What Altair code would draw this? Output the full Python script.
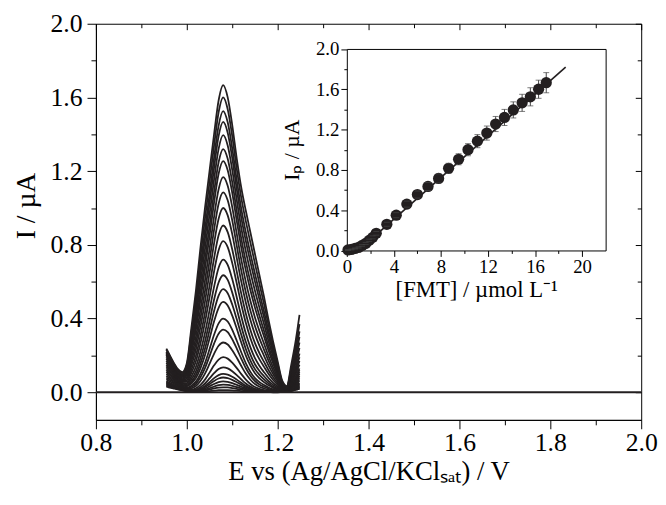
import altair as alt
import pandas as pd

# ---------------- main voltammograms ----------------
E_GRID = [0.955, 0.96, 0.97, 0.98, 0.99, 1.00, 1.01, 1.02, 1.03, 1.04, 1.05,
          1.06, 1.07, 1.08, 1.09, 1.10, 1.11, 1.12, 1.13, 1.14, 1.15, 1.16,
          1.17, 1.18, 1.19, 1.20, 1.21, 1.22, 1.23, 1.24, 1.248]
# normalised peak profile of the largest (widest) curve
SHAPE_WIDE = [0, 0, 0, 0.005, 0.02, 0.07, 0.20, 0.33, 0.47, 0.60, 0.72,
              0.84, 0.95, 1.0, 0.96, 0.87, 0.76, 0.665, 0.59, 0.52, 0.45, 0.38,
              0.31, 0.235, 0.165, 0.10, 0.035, 0, 0, 0, 0]
# normalised peak profile of the small (narrow) curves
SHAPE_NARROW = [0, 0, 0, 0, 0, 0.01, 0.035, 0.085, 0.18, 0.33, 0.54,
                0.76, 0.93, 1.0, 0.96, 0.84, 0.68, 0.50, 0.33, 0.20, 0.11, 0.06,
                0.03, 0.01, 0, 0, 0, 0, 0, 0, 0]
# background tails at both ends of the scan
TAIL_LEFT = [1.0, 0.90, 0.70, 0.50, 0.32, 0.17, 0.06, 0, 0, 0, 0,
             0, 0, 0, 0, 0, 0, 0, 0, 0, 0, 0,
             0, 0, 0, 0, 0, 0, 0, 0, 0]
TAIL_RIGHT = [0, 0, 0, 0, 0, 0, 0, 0, 0, 0, 0,
              0, 0, 0, 0, 0, 0, 0, 0, 0, 0, 0,
              0, 0, 0, 0, 0.01, 0.08, 0.36, 0.68, 1.0]

PEAKS = [0.012, 0.027, 0.041, 0.059, 0.080, 0.100, 0.135, 0.19, 0.27, 0.34,
         0.40, 0.49, 0.56, 0.635, 0.72, 0.82, 0.905, 1.0, 1.085, 1.167,
         1.255, 1.32, 1.395, 1.467, 1.526, 1.60, 1.667]
LEFT_START = [0.03, 0.035, 0.04, 0.045, 0.05, 0.055, 0.06, 0.07, 0.08, 0.09,
              0.10, 0.11, 0.12, 0.13, 0.14, 0.15, 0.16, 0.17, 0.18, 0.19,
              0.20, 0.205, 0.21, 0.215, 0.22, 0.23, 0.237]
RIGHT_END = [0.02, 0.02, 0.025, 0.03, 0.03, 0.035, 0.04, 0.045, 0.05, 0.06,
             0.07, 0.08, 0.09, 0.10, 0.11, 0.12, 0.13, 0.15, 0.17, 0.19,
             0.21, 0.24, 0.27, 0.30, 0.33, 0.37, 0.42]

# ---------------- inset calibration ----------------
INSET_CONC = [0.1, 0.4, 0.7, 1.0, 1.3, 1.6, 1.9, 2.2, 2.5, 3.4, 4.2, 5.1,
              6.0, 6.9, 7.8, 8.65, 9.5, 10.3, 11.1, 11.9, 12.65, 13.4, 14.15,
              14.9, 15.6, 16.3, 16.95]
INSET_IP = [0.005, 0.01, 0.02, 0.03, 0.05, 0.07, 0.10, 0.13, 0.17, 0.26, 0.35,
            0.46, 0.555, 0.635, 0.715, 0.815, 0.905, 1.0, 1.085, 1.165, 1.255,
            1.32, 1.395, 1.465, 1.525, 1.60, 1.665]
INSET_ERR = [0.005, 0.005, 0.005, 0.006, 0.008, 0.01, 0.012, 0.015, 0.018,
             0.02, 0.025, 0.03, 0.035, 0.04, 0.045, 0.05, 0.055, 0.06, 0.065,
             0.07, 0.075, 0.08, 0.08, 0.085, 0.09, 0.09, 0.10]
FIT_CONC = [1.0, 18.6]
FIT_IP = [0.0, 1.82]

X_MAJOR = [0.8, 1.0, 1.2, 1.4, 1.6, 1.8, 2.0]
X_MINOR = [0.9, 1.1, 1.3, 1.5, 1.7, 1.9]
Y_MAJOR = [0.0, 0.4, 0.8, 1.2, 1.6, 2.0]
Y_MINOR = [0.2, 0.6, 1.0, 1.4, 1.8]
IX_MAJOR = [0, 4, 8, 12, 16, 20]
IX_MINOR = [2, 6, 10, 14, 18]

W, H = 552, 401
INSET_X_RANGE = [254, 516]
INSET_Y_RANGE = [229.5, 25.5]
INK = "#231f20"

# ---------------- tables ----------------
pmax = max(PEAKS)
rows = []
for k, p in enumerate(PEAKS):
    w = p / pmax
    for j, e in enumerate(E_GRID):
        val = (p * ((1 - w) * SHAPE_NARROW[j] + w * SHAPE_WIDE[j])
               + LEFT_START[k] * TAIL_LEFT[j] + RIGHT_END[k] * TAIL_RIGHT[j])
        rows.append({"curve": k, "E": e, "I": val})
curves_df = pd.DataFrame(rows)
zero_df = pd.DataFrame({"E": [0.8, 2.0], "I": [0.0, 0.0]})

inset_df = pd.DataFrame({"c": INSET_CONC, "ip": INSET_IP,
                         "lo": [a - b for a, b in zip(INSET_IP, INSET_ERR)],
                         "hi": [a + b for a, b in zip(INSET_IP, INSET_ERR)]})
fit_df = pd.DataFrame({"c": FIT_CONC, "ip": FIT_IP})

xs = alt.Scale(domain=[0.8, 2.0], nice=False, zero=False)
ys = alt.Scale(domain=[-0.15, 2.0], nice=False, zero=False)
ixs = alt.Scale(domain=[0, 22], range=INSET_X_RANGE, nice=False, zero=False)
iys = alt.Scale(domain=[0, 2], range=INSET_Y_RANGE, nice=False, zero=False)

# ---------------- main layer ----------------
main_x_axis = alt.Axis(orient="bottom", values=X_MAJOR, format=".1f", tickSize=9,
                       labelPadding=1, labelFontSize=26, titleFontSize=27,
                       titlePadding=3, labelFlush=False, minExtent=0,
                       title="E vs (Ag/AgCl/KClₛₐₜ) / V")
main_y_axis = alt.Axis(orient="left", values=Y_MAJOR, format=".1f", tickSize=9,
                       labelPadding=5, labelFontSize=26, titleFontSize=28,
                       titlePadding=10, labelFlush=False, title="I / µA",
                       titleY=184)

curves = alt.Chart(curves_df).mark_line(color=INK, strokeWidth=1.8,
                                        interpolate="monotone").encode(
    x=alt.X("E:Q", scale=xs, axis=main_x_axis),
    y=alt.Y("I:Q", scale=ys, axis=main_y_axis),
    detail="curve:N")
zero_line = alt.Chart(zero_df).mark_line(color=INK, strokeWidth=2).encode(
    x=alt.X("E:Q", scale=xs, axis=main_x_axis),
    y=alt.Y("I:Q", scale=ys, axis=main_y_axis))
main = alt.layer(curves, zero_line)


def tick_layer(df, xf, yf, xsc, ysc, xaxis, yaxis):
    return alt.Chart(df).mark_point(opacity=0).encode(
        x=alt.X(xf, scale=xsc, axis=xaxis),
        y=alt.Y(yf, scale=ysc, axis=yaxis))


def bare(orient, values=None, size=0, offset=0, domain=False):
    kw = dict(orient=orient, labels=False, domain=domain, title=None,
              minExtent=0, maxExtent=0, offset=offset)
    if values is None:
        kw["ticks"] = False
    else:
        kw["values"] = values
        kw["tickSize"] = size
    return alt.Axis(**kw)


main_minor = tick_layer(zero_df, "E:Q", "I:Q", xs, ys,
                        bare("bottom", X_MINOR, 5), bare("left", Y_MINOR, 5))
main_tr_major = tick_layer(zero_df, "E:Q", "I:Q", xs, ys,
                           bare("top", X_MAJOR, 6, -6), bare("right", Y_MAJOR, 6, -6))
main_tr_minor = tick_layer(zero_df, "E:Q", "I:Q", xs, ys,
                           bare("top", X_MINOR, 4, -4), bare("right", Y_MINOR, 4, -4))

# ---------------- inset ----------------
in_x_axis = alt.Axis(orient="bottom", offset=-(H - INSET_Y_RANGE[0]), values=IX_MAJOR,
                     format="d", tickSize=6, labelPadding=1, labelFontSize=19,
                     titleFontSize=23, titlePadding=3, labelFlush=False,
                     title="[FMT] / µmol L⁻¹")
in_y_axis = alt.Axis(orient="left", offset=-INSET_X_RANGE[0], values=Y_MAJOR,
                     format=".1f", tickSize=6, labelPadding=2, labelFontSize=19,
                     titleFontSize=22, titlePadding=12, labelFlush=False,
                     title="Iₚ / µA")

fit = alt.Chart(fit_df).mark_line(color=INK, strokeWidth=1.6).encode(
    x=alt.X("c:Q", scale=ixs, axis=in_x_axis),
    y=alt.Y("ip:Q", scale=iys, axis=in_y_axis))
bars = alt.Chart(inset_df).mark_rule(color="#444444", strokeWidth=1).encode(
    x=alt.X("c:Q", scale=ixs, axis=in_x_axis),
    y=alt.Y("lo:Q", scale=iys, axis=in_y_axis),
    y2="hi:Q")
pts = alt.Chart(inset_df).mark_circle(size=130, color=INK, opacity=1).encode(
    x=alt.X("c:Q", scale=ixs, axis=in_x_axis),
    y=alt.Y("ip:Q", scale=iys, axis=in_y_axis))
cap_hi = alt.Chart(inset_df).mark_tick(orient="horizontal", size=6, thickness=1,
                                       color="#444444").encode(
    x=alt.X("c:Q", scale=ixs, axis=in_x_axis),
    y=alt.Y("hi:Q", scale=iys, axis=in_y_axis))
cap_lo = alt.Chart(inset_df).mark_tick(orient="horizontal", size=6, thickness=1,
                                       color="#444444").encode(
    x=alt.X("c:Q", scale=ixs, axis=in_x_axis),
    y=alt.Y("lo:Q", scale=iys, axis=in_y_axis))
inset = alt.layer(fit, bars, pts, cap_hi, cap_lo)

inset_minor = tick_layer(fit_df, "c:Q", "ip:Q", ixs, iys,
                         bare("bottom", IX_MINOR, 3, -(H - INSET_Y_RANGE[0])),
                         bare("left", Y_MINOR, 3, -INSET_X_RANGE[0]))
inset_box = tick_layer(fit_df, "c:Q", "ip:Q", ixs, iys,
                       bare("top", None, 0, -INSET_Y_RANGE[1], True),
                       bare("right", None, 0, -(W - INSET_X_RANGE[1]), True))

chart = alt.layer(main, main_minor, main_tr_major, main_tr_minor,
                  inset, inset_minor, inset_box).resolve_scale(
    x="independent", y="independent").resolve_axis(
    x="independent", y="independent").properties(
    width=W, height=H,
    padding={"left": 4, "top": 0, "right": 0, "bottom": 0}
).configure_view(stroke="black", strokeWidth=1).configure_axis(
    labelFont="Liberation Serif", titleFont="Liberation Serif",
    labelColor="black", titleColor="black", tickColor="black",
    domainColor="black", grid=False, titleFontWeight="normal",
    domainWidth=1, tickWidth=1)

chart.save("out.html", embed_options={"renderer": "svg", "actions": False})
